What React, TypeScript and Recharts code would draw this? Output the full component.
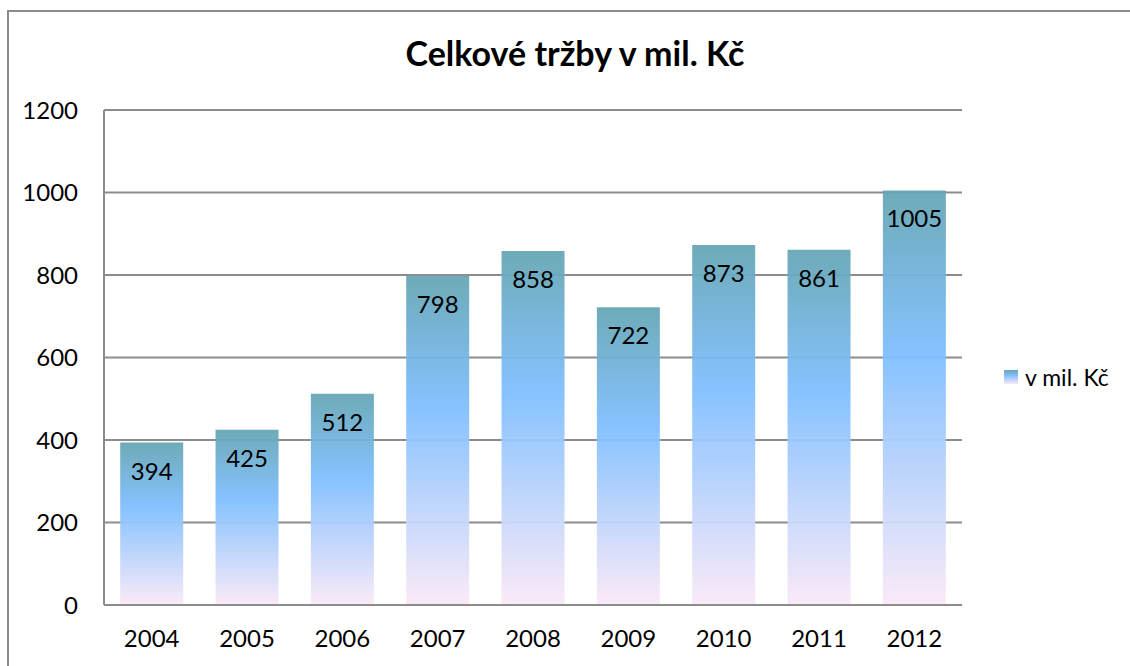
import React from "react";
import { BarChart, Bar, XAxis, YAxis, CartesianGrid, LabelList } from "recharts";

const years = ["2004", "2005", "2006", "2007", "2008", "2009", "2010", "2011", "2012"];
const revenue = [394, 425, 512, 798, 858, 722, 873, 861, 1005];
const yTicks = [0, 200, 400, 600, 800, 1000, 1200];

const data = years.map((year, i) => ({ year, value: revenue[i] }));

const FONT = "Lato, 'Open Sans', sans-serif";
const GRID = "#8c8c8c";

export default function App() {
  return (
    <div style={{ position: "absolute", left: 0, top: 0, width: 1130, height: 666, overflow: "hidden", background: "#fff" }}>
      <div
        style={{
          position: "absolute",
          left: 7,
          top: 10,
          width: 1200,
          height: 700,
          borderLeft: `2px solid ${GRID}`,
          borderTop: `2px solid ${GRID}`,
        }}
      />
      <div
        style={{
          position: "absolute",
          left: 0,
          top: 32,
          width: 1150,
          textAlign: "center",
          fontFamily: FONT,
          fontWeight: "bold",
          fontSize: 34,
          color: "#000",
        }}
      >
        Celkové tržby v mil. Kč
      </div>
      {/* legend */}
      <div
        style={{
          position: "absolute",
          left: 1004,
          top: 363,
          display: "flex",
          alignItems: "center",
          fontFamily: FONT,
          fontSize: 23,
          color: "#000",
        }}
      >
        <div
          style={{
            width: 14,
            height: 14,
            marginRight: 7,
            background: "linear-gradient(#6aa7b8, #80bfff 40%, #fbe9f7)",
          }}
        />
        <span>v mil. Kč</span>
      </div>
      <div style={{ position: "absolute", left: 0, top: 0 }}>
        <BarChart
          width={1130}
          height={666}
          data={data}
          margin={{ top: 110, right: 168, left: 0, bottom: 0 }}
          barCategoryGap="17%"
        >
          <defs>
            <linearGradient id="barFill" x1="0" y1="0" x2="0" y2="1">
              <stop offset="0%" stopColor="#66a6b4" />
              <stop offset="40%" stopColor="#80bfff" />
              <stop offset="100%" stopColor="#fbe9f7" />
            </linearGradient>
          </defs>
          <CartesianGrid vertical={false} stroke={GRID} strokeWidth={2} />
          <XAxis
            dataKey="year"
            height={61}
            tickLine={false}
            tickSize={0}
            tickMargin={25}
            axisLine={{ stroke: GRID, strokeWidth: 2 }}
            tick={{ fill: "#000", fontSize: 24, fontFamily: FONT }}
          />
          <YAxis
            width={104}
            domain={[0, 1200]}
            ticks={yTicks}
            interval={0}
            tickLine={false}
            tickSize={0}
            tickMargin={26}
            axisLine={{ stroke: GRID, strokeWidth: 2 }}
            tick={{ fill: "#000", fontSize: 24, fontFamily: FONT }}
          />
          <Bar dataKey="value" fill="url(#barFill)" fillOpacity={0.95} isAnimationActive={false}>
            <LabelList
              dataKey="value"
              position="insideTop"
              offset={20}
              fill="#000"
              fontSize={24}
              fontFamily={FONT}
            />
          </Bar>
        </BarChart>
      </div>
    </div>
  );
}
